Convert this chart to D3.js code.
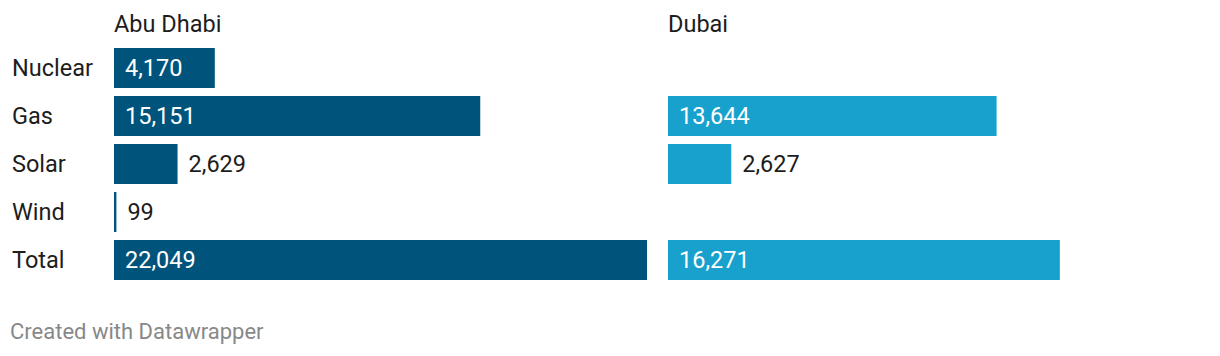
<!DOCTYPE html>
<html><head><meta charset="utf-8">
<script src="https://cdn.jsdelivr.net/npm/d3@7"></script>
<style>body{margin:0;background:#fff;}svg{display:block;font-family:Roboto,sans-serif;}</style>
</head><body>
<svg id="c" width="1220" height="356"></svg>
<script>
const categories = ["Nuclear","Gas","Solar","Wind","Total"];
const panels = ["Abu Dhabi","Dubai"];
const abuDhabi = [4170,15151,2629,99,22049];
const dubai = [null,13644,2627,null,16271];
const colors = ["#00547b","#18a1cd"];

const svg = d3.select("#c");
const fmt = d3.format(",");
const y = d3.scaleBand().domain(categories).range([48,280]).paddingInner(8/48).paddingOuter(0);
const panelX = [114, 668];
const panelW = [533, 531];
const FS = 23.5;

svg.selectAll("text.cat").data(categories).enter().append("text")
  .attr("x",12).attr("y",d=>y(d)+y.bandwidth()/2+7.5)
  .attr("font-size",FS).attr("fill","#1d1d1d").text(d=>d);

[abuDhabi,dubai].forEach((vals,pi)=>{
  const x = d3.scaleLinear().domain([0,22049]).range([0,panelW[pi]]);
  const g = svg.append("g").attr("transform",`translate(${panelX[pi]},0)`);
  g.append("text").attr("x",0).attr("y",32).attr("font-size",FS).attr("fill","#1d1d1d").text(panels[pi]);
  const data = categories.map((c,i)=>({c,v:vals[i]})).filter(d=>d.v!=null);
  g.selectAll("rect").data(data).enter().append("rect")
    .attr("x",0).attr("y",d=>y(d.c)).attr("height",y.bandwidth())
    .attr("width",d=>Math.max(2,x(d.v))).attr("fill",colors[pi]);
  g.selectAll("text.v").data(data).enter().append("text")
    .attr("font-size",FS)
    .attr("y",d=>y(d.c)+y.bandwidth()/2+7.5)
    .each(function(d){
      const inside = x(d.v) > 90;
      d3.select(this).attr("x", inside ? 11 : Math.max(2,x(d.v))+11)
        .attr("fill", inside ? "#ffffff" : "#1d1d1d").text(fmt(d.v));
    });
});

svg.append("text").attr("x",10).attr("y",339).attr("font-size",22).attr("fill","#888888").text("Created with Datawrapper");
</script>
</body></html>
